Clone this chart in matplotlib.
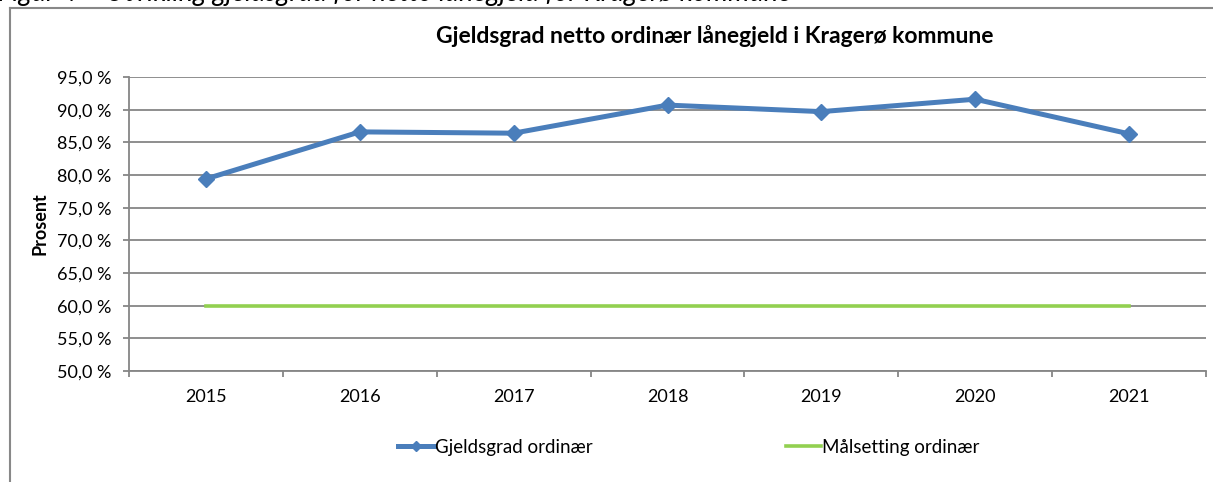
import matplotlib
matplotlib.use("Agg")
import matplotlib.pyplot as plt
from matplotlib.lines import Line2D

years = ["2015", "2016", "2017", "2018", "2019", "2020", "2021"]
gjeldsgrad = [79.4, 86.6, 86.4, 90.7, 89.7, 91.6, 86.3]
malsetting = [60.0, 60.0, 60.0, 60.0, 60.0, 60.0, 60.0]
yticks = [50, 55, 60, 65, 70, 75, 80, 85, 90, 95]
ytick_labels = [f"{v:.1f} %".replace(".", ",") for v in yticks]

plt.rcParams['font.family'] = ['Lato', 'DejaVu Sans']

W, H = 1213, 482
fig = plt.figure(figsize=(W / 100, H / 100), dpi=100)

def fx(px):
    return px / W

def fy(py):
    return 1 - py / H

ax = fig.add_axes([fx(129), fy(371), fx(1206) - fx(129), fy(77) - fy(371)])

x = list(range(len(years)))
ax.plot(x, gjeldsgrad, color="#4A7EBB", lw=3.6, marker="D", ms=8.5,
        label="Gjeldsgrad ordinær", zorder=4)
ax.plot(x, malsetting, color="#92D050", lw=2.6, label="Målsetting ordinær", zorder=3)

ax.set_xlim(-0.5, len(years) - 0.5)
ax.set_ylim(50, 95)
ax.set_yticks(yticks)
ax.set_yticklabels(ytick_labels, fontsize=13)
ax.set_xticks(x)
ax.set_xticklabels(years, fontsize=13)
ax.tick_params(axis="x", length=0, pad=13)
ax.tick_params(axis="y", length=4.5, width=1.3, color="#868686", pad=8)

# category boundary ticks on x axis
ax.set_xticks([i - 0.5 for i in range(len(years) + 1)], minor=True)
ax.tick_params(axis="x", which="minor", length=4.5, width=1.3, color="#868686")

ax.grid(axis="y", color="#868686", lw=1.3)
ax.set_axisbelow(True)
for s in ["top", "right"]:
    ax.spines[s].set_visible(False)
for s in ["left", "bottom"]:
    ax.spines[s].set_color("#868686")
    ax.spines[s].set_linewidth(1.3)

ax.set_ylabel("Prosent", fontsize=13, fontweight="bold", labelpad=6)

fig.text(fx(715), fy(36), "Gjeldsgrad netto ordinær lånegjeld i Kragerø kommune",
         ha="center", va="center", fontsize=16.5, fontweight="bold")

# caption cut off at top (as in the reference)
fig.text(fx(-2), fy(1), "Figur 4 – Utvikling gjeldsgrad for netto lånegjeld for Kragerø kommune",
         ha="left", va="baseline", fontsize=19.5, style="italic")

fig.legend(loc="center", bbox_to_anchor=(fx(689), fy(447)), ncol=2, frameon=False,
           fontsize=13.5, handlelength=1.9, handletextpad=0.05, columnspacing=10.3,
           markerscale=0.6)

# outer frame
fig.add_artist(Line2D([fx(10), fx(10)], [fy(8), 0], color="#888888", lw=1.5,
                      transform=fig.transFigure))
fig.add_artist(Line2D([fx(10), 1], [fy(8), fy(8)], color="#888888", lw=1.5,
                      transform=fig.transFigure))

fig.savefig("out.png", dpi=100)
